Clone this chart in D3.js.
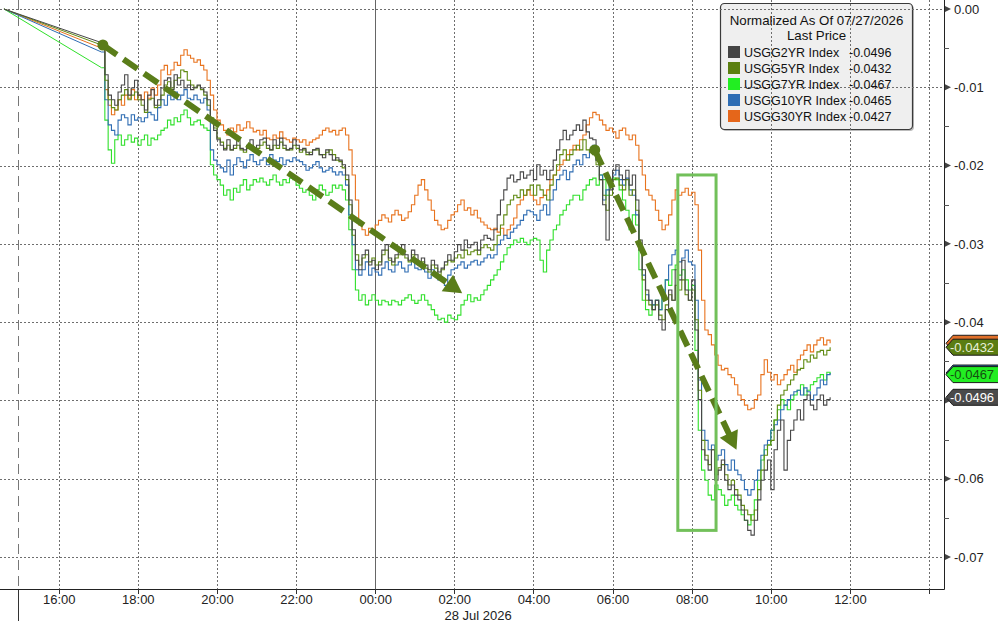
<!DOCTYPE html>
<html><head><meta charset="utf-8">
<script src="https://cdn.jsdelivr.net/npm/d3@7"></script>
<style>
body{margin:0;background:#fff}
svg{display:block}
text{font-family:"Liberation Sans",Arial,sans-serif}
</style>
</head><body>
<svg id="c" width="998" height="621"></svg>
<script>
// ---------- DATA ----------
const seriesNames = ["USGG2YR Index","USGG5YR Index","USGG7YR Index","USGG10YR Index","USGG30YR Index"];
const lastPrices = [-0.0496,-0.0432,-0.0467,-0.0465,-0.0427];
const lastPriceLabels = ["-0.0496","-0.0432","-0.0467","-0.0465","-0.0427"];
const yTickValues = [0,-0.01,-0.02,-0.03,-0.04,-0.05,-0.06,-0.07];
const yTickLabels = ["0.00","-0.01","-0.02","-0.03","-0.04","-0.05","-0.06","-0.07"];
const xTickLabels = ["16:00","18:00","20:00","22:00","00:00","02:00","04:00","06:00","08:00","10:00","12:00"];
const dateLabel = "28 Jul 2026";
const legendTitle = "Normalized As Of 07/27/2026";
const legendSub = "Last Price";
// normalization point (all series = 0), then 5-minute readings from 17:05 to 11:30
const openTime = new Date(2026,6,27,14,37);
const firstTime = new Date(2026,6,27,17,5);
const stepMinutes = 5;

const usgg2yr = [
-.0043,-.0084,-.0110,-.0116,-.0123,-.0106,-.0097,-.0084,-.0110,-.0101,-.0091,-.0110,
-.0116,-.0129,-.0110,-.0103,-.0123,-.0116,-.0101,-.0091,-.0088,-.0103,-.0084,-.0097,
-.0091,-.0101,-.0097,-.0103,-.0100,-.0097,-.0101,-.0106,-.0116,-.0142,-.0155,-.0167,
-.0174,-.0180,-.0167,-.0180,-.0174,-.0167,-.0178,-.0180,-.0174,-.0167,-.0180,-.0174,
-.0167,-.0165,-.0174,-.0180,-.0167,-.0174,-.0165,-.0174,-.0180,-.0178,-.0167,-.0174,
-.0180,-.0178,-.0183,-.0186,-.0180,-.0178,-.0186,-.0190,-.0180,-.0186,-.0193,-.0190,
-.0193,-.0199,-.0212,-.0244,-.0282,-.0321,-.0333,-.0314,-.0308,-.0327,-.0321,-.0333,
-.0327,-.0308,-.0301,-.0318,-.0323,-.0314,-.0308,-.0301,-.0314,-.0321,-.0308,-.0314,
-.0323,-.0318,-.0327,-.0333,-.0321,-.0327,-.0336,-.0331,-.0323,-.0314,-.0321,-.0310,
-.0301,-.0308,-.0295,-.0305,-.0301,-.0298,-.0308,-.0295,-.0289,-.0293,-.0295,-.0282,
-.0263,-.0244,-.0231,-.0216,-.0212,-.0221,-.0218,-.0208,-.0216,-.0212,-.0206,-.0218,
-.0199,-.0212,-.0206,-.0218,-.0206,-.0193,-.0180,-.0167,-.0155,-.0167,-.0161,-.0155,
-.0148,-.0155,-.0142,-.0157,-.0165,-.0167,-.0193,-.0218,-.0250,-.0295,-.0231,-.0206,
-.0199,-.0212,-.0218,-.0206,-.0225,-.0212,-.0244,-.0295,-.0333,-.0359,-.0372,-.0384,
-.0372,-.0397,-.0410,-.0384,-.0359,-.0372,-.0333,-.0346,-.0321,-.0359,-.0372,-.0346,
-.0410,-.0499,-.0563,-.0576,-.0589,-.0563,-.0602,-.0589,-.0576,-.0602,-.0614,-.0608,
-.0621,-.0627,-.0640,-.0653,-.0666,-.0672,-.0653,-.0627,-.0602,-.0589,-.0576,-.0614,
-.0563,-.0538,-.0525,-.0589,-.0551,-.0538,-.0525,-.0512,-.0525,-.0499,-.0493,-.0506,
-.0512,-.0499,-.0493,-.0506,-.0499,-.0496];

const usgg5yr = [
-.0046,-.0091,-.0116,-.0126,-.0129,-.0116,-.0110,-.0103,-.0116,-.0110,-.0106,-.0116,
-.0123,-.0132,-.0116,-.0114,-.0126,-.0123,-.0110,-.0097,-.0093,-.0101,-.0091,-.0088,
-.0078,-.0080,-.0091,-.0097,-.0101,-.0098,-.0103,-.0110,-.0123,-.0139,-.0152,-.0165,
-.0170,-.0178,-.0174,-.0180,-.0178,-.0174,-.0180,-.0183,-.0178,-.0174,-.0180,-.0178,
-.0174,-.0170,-.0178,-.0180,-.0174,-.0178,-.0170,-.0178,-.0180,-.0180,-.0174,-.0178,
-.0183,-.0180,-.0186,-.0183,-.0180,-.0180,-.0186,-.0186,-.0183,-.0180,-.0186,-.0193,
-.0195,-.0203,-.0218,-.0250,-.0289,-.0314,-.0327,-.0318,-.0314,-.0323,-.0318,-.0327,
-.0323,-.0314,-.0308,-.0321,-.0327,-.0318,-.0314,-.0308,-.0318,-.0323,-.0314,-.0321,
-.0327,-.0323,-.0331,-.0336,-.0327,-.0331,-.0340,-.0333,-.0327,-.0321,-.0323,-.0318,
-.0314,-.0318,-.0308,-.0314,-.0310,-.0308,-.0314,-.0305,-.0301,-.0305,-.0308,-.0301,
-.0289,-.0276,-.0263,-.0250,-.0244,-.0238,-.0241,-.0231,-.0238,-.0231,-.0225,-.0238,
-.0225,-.0231,-.0238,-.0244,-.0225,-.0212,-.0199,-.0186,-.0180,-.0193,-.0186,-.0180,
-.0174,-.0180,-.0167,-.0180,-.0183,-.0186,-.0199,-.0218,-.0238,-.0257,-.0238,-.0218,
-.0216,-.0225,-.0231,-.0218,-.0238,-.0231,-.0257,-.0308,-.0346,-.0372,-.0378,-.0384,
-.0378,-.0391,-.0397,-.0378,-.0365,-.0372,-.0353,-.0359,-.0346,-.0365,-.0372,-.0359,
-.0397,-.0487,-.0551,-.0570,-.0582,-.0563,-.0595,-.0586,-.0582,-.0595,-.0608,-.0602,
-.0614,-.0621,-.0634,-.0640,-.0646,-.0653,-.0640,-.0614,-.0589,-.0570,-.0557,-.0551,
-.0525,-.0506,-.0493,-.0487,-.0480,-.0474,-.0467,-.0461,-.0459,-.0448,-.0451,-.0442,
-.0446,-.0438,-.0436,-.0442,-.0436,-.0432];

const usgg7yr = [
-.0075,-.0142,-.0180,-.0197,-.0167,-.0161,-.0174,-.0167,-.0161,-.0170,-.0165,-.0174,
-.0167,-.0161,-.0174,-.0165,-.0167,-.0161,-.0155,-.0152,-.0142,-.0148,-.0139,-.0144,
-.0135,-.0129,-.0139,-.0148,-.0144,-.0142,-.0148,-.0152,-.0155,-.0199,-.0212,-.0218,
-.0225,-.0238,-.0231,-.0244,-.0229,-.0234,-.0225,-.0218,-.0231,-.0225,-.0218,-.0221,
-.0216,-.0221,-.0225,-.0218,-.0212,-.0221,-.0225,-.0218,-.0222,-.0216,-.0218,-.0225,
-.0229,-.0234,-.0231,-.0238,-.0244,-.0231,-.0225,-.0231,-.0238,-.0234,-.0225,-.0229,
-.0225,-.0231,-.0244,-.0282,-.0333,-.0359,-.0372,-.0365,-.0378,-.0372,-.0365,-.0372,
-.0378,-.0372,-.0374,-.0378,-.0372,-.0374,-.0378,-.0372,-.0369,-.0365,-.0372,-.0376,
-.0372,-.0365,-.0372,-.0378,-.0384,-.0391,-.0397,-.0395,-.0400,-.0391,-.0395,-.0397,
-.0391,-.0378,-.0372,-.0365,-.0374,-.0369,-.0372,-.0365,-.0359,-.0353,-.0346,-.0340,
-.0333,-.0323,-.0314,-.0305,-.0301,-.0295,-.0298,-.0293,-.0298,-.0301,-.0295,-.0293,
-.0295,-.0321,-.0336,-.0308,-.0295,-.0282,-.0276,-.0263,-.0257,-.0250,-.0244,-.0238,
-.0238,-.0244,-.0231,-.0225,-.0218,-.0216,-.0225,-.0212,-.0218,-.0238,-.0225,-.0216,
-.0218,-.0231,-.0244,-.0257,-.0282,-.0263,-.0276,-.0333,-.0372,-.0384,-.0391,-.0378,
-.0372,-.0384,-.0359,-.0346,-.0353,-.0333,-.0327,-.0340,-.0333,-.0346,-.0359,-.0353,
-.0436,-.0538,-.0589,-.0602,-.0621,-.0627,-.0608,-.0614,-.0621,-.0634,-.0627,-.0621,
-.0634,-.0640,-.0646,-.0653,-.0659,-.0646,-.0627,-.0602,-.0576,-.0563,-.0557,-.0538,
-.0525,-.0512,-.0499,-.0506,-.0512,-.0499,-.0493,-.0487,-.0480,-.0493,-.0487,-.0480,
-.0476,-.0471,-.0467,-.0474,-.0464,-.0467];

const usgg10yr = [
-.0055,-.0116,-.0148,-.0155,-.0161,-.0142,-.0135,-.0139,-.0148,-.0135,-.0142,-.0139,
-.0144,-.0139,-.0132,-.0135,-.0142,-.0126,-.0116,-.0123,-.0110,-.0116,-.0106,-.0116,
-.0110,-.0103,-.0114,-.0116,-.0110,-.0116,-.0120,-.0114,-.0129,-.0180,-.0193,-.0199,
-.0203,-.0208,-.0193,-.0212,-.0199,-.0190,-.0195,-.0203,-.0193,-.0186,-.0195,-.0199,
-.0193,-.0190,-.0199,-.0186,-.0193,-.0195,-.0190,-.0199,-.0193,-.0195,-.0190,-.0193,
-.0195,-.0199,-.0206,-.0203,-.0199,-.0195,-.0203,-.0208,-.0206,-.0203,-.0208,-.0212,
-.0208,-.0212,-.0225,-.0263,-.0301,-.0333,-.0340,-.0333,-.0323,-.0340,-.0331,-.0336,
-.0340,-.0331,-.0323,-.0333,-.0336,-.0327,-.0323,-.0331,-.0336,-.0327,-.0321,-.0331,
-.0333,-.0327,-.0336,-.0344,-.0333,-.0340,-.0346,-.0344,-.0353,-.0340,-.0333,-.0331,
-.0327,-.0323,-.0331,-.0327,-.0323,-.0321,-.0327,-.0323,-.0318,-.0314,-.0318,-.0314,
-.0301,-.0295,-.0289,-.0293,-.0285,-.0280,-.0276,-.0270,-.0263,-.0257,-.0259,-.0263,
-.0270,-.0257,-.0250,-.0263,-.0244,-.0231,-.0218,-.0212,-.0206,-.0218,-.0208,-.0199,
-.0193,-.0199,-.0186,-.0190,-.0180,-.0174,-.0193,-.0212,-.0244,-.0231,-.0218,-.0212,
-.0206,-.0218,-.0225,-.0216,-.0231,-.0238,-.0263,-.0308,-.0340,-.0365,-.0372,-.0378,
-.0372,-.0384,-.0365,-.0346,-.0327,-.0314,-.0308,-.0323,-.0318,-.0308,-.0323,-.0327,
-.0372,-.0474,-.0538,-.0551,-.0563,-.0557,-.0576,-.0570,-.0563,-.0582,-.0589,-.0576,
-.0589,-.0595,-.0602,-.0614,-.0621,-.0614,-.0602,-.0589,-.0570,-.0557,-.0551,-.0538,
-.0531,-.0525,-.0512,-.0506,-.0499,-.0493,-.0489,-.0487,-.0493,-.0484,-.0489,-.0499,
-.0493,-.0484,-.0474,-.0480,-.0467,-.0465];

const usgg30yr = [
-.0050,-.0103,-.0123,-.0135,-.0129,-.0116,-.0123,-.0110,-.0114,-.0103,-.0116,-.0110,
-.0116,-.0106,-.0114,-.0101,-.0110,-.0097,-.0078,-.0072,-.0084,-.0078,-.0068,-.0072,
-.0059,-.0052,-.0059,-.0063,-.0068,-.0065,-.0072,-.0078,-.0091,-.0110,-.0129,-.0142,
-.0148,-.0155,-.0161,-.0152,-.0157,-.0148,-.0155,-.0152,-.0144,-.0152,-.0157,-.0155,
-.0161,-.0155,-.0165,-.0167,-.0161,-.0165,-.0157,-.0165,-.0167,-.0170,-.0165,-.0167,
-.0170,-.0167,-.0174,-.0170,-.0167,-.0165,-.0161,-.0155,-.0152,-.0157,-.0155,-.0161,
-.0155,-.0152,-.0161,-.0180,-.0212,-.0244,-.0276,-.0282,-.0289,-.0280,-.0282,-.0276,
-.0270,-.0263,-.0267,-.0272,-.0263,-.0257,-.0263,-.0270,-.0267,-.0259,-.0250,-.0238,
-.0225,-.0218,-.0231,-.0244,-.0257,-.0270,-.0276,-.0282,-.0280,-.0270,-.0263,-.0259,
-.0250,-.0244,-.0257,-.0254,-.0263,-.0257,-.0267,-.0272,-.0276,-.0280,-.0282,-.0280,
-.0285,-.0280,-.0289,-.0282,-.0276,-.0267,-.0250,-.0244,-.0238,-.0231,-.0238,-.0244,
-.0250,-.0241,-.0238,-.0231,-.0218,-.0212,-.0206,-.0199,-.0193,-.0186,-.0180,-.0174,
-.0180,-.0167,-.0161,-.0148,-.0139,-.0132,-.0135,-.0142,-.0148,-.0155,-.0152,-.0157,
-.0165,-.0155,-.0152,-.0161,-.0167,-.0161,-.0174,-.0193,-.0212,-.0231,-.0238,-.0244,
-.0257,-.0270,-.0282,-.0276,-.0263,-.0244,-.0231,-.0238,-.0234,-.0229,-.0238,-.0234,
-.0250,-.0308,-.0372,-.0410,-.0416,-.0429,-.0442,-.0455,-.0461,-.0459,-.0467,-.0471,
-.0480,-.0493,-.0499,-.0506,-.0512,-.0510,-.0499,-.0493,-.0467,-.0448,-.0464,-.0474,
-.0467,-.0480,-.0474,-.0467,-.0461,-.0455,-.0464,-.0448,-.0442,-.0436,-.0429,-.0438,
-.0429,-.0423,-.0420,-.0429,-.0423,-.0427];

const seriesValues = [usgg2yr, usgg5yr, usgg7yr, usgg10yr, usgg30yr];
const seriesColors = ["#474747","#5f8a12","#2fe02a","#2f6db3","#e8731e"];
const legendColors = ["#444444","#5b7f10","#22ee22","#2e6db4","#e5661a"];
const tagFill = ["#4a4a4a","#5a7d12","#22ee22","#2e6db4","#e0702a"];
const tagText = ["#ffffff","#e8f0d8","#145010","#ffffff","#ffffff"];
// tags drawn bottom-to-top; the orange and blue tags sit under the olive and lime ones
const tagOrder = [4,1,3,2,0];
const hiddenTags = [4,3];

// annotations (time, value)
const arrow1 = [[new Date(2026,6,27,17,7), -0.0046],[new Date(2026,6,28,2,12), -0.0363]];
const arrow2 = [[new Date(2026,6,28,5,33), -0.0180],[new Date(2026,6,28,9,8), -0.0563]];
const boxTimes = [new Date(2026,6,28,7,39), new Date(2026,6,28,8,37)];
const boxValues = [-0.0212, -0.0666];
const dayBreak = new Date(2026,6,28,0,0);
const markTime = new Date(2026,6,27,15,0);

// ---------- LAYOUT ----------
const svg = d3.select("#c");
const plotRight = 944, plotBottom = 589;
const x = d3.scaleTime()
  .domain([new Date(2026,6,27,16,0), new Date(2026,6,28,12,0)])
  .range([58.7, 849.9]);
const y = d3.scaleLinear().domain([0,-0.07]).range([9,557]);

svg.append("defs").append("clipPath").attr("id","clip")
  .append("rect").attr("x",0).attr("y",0).attr("width",plotRight).attr("height",plotBottom);

// legend background (grid shows through)
const lg = {x:720.5,y:3.5,w:192,h:126};
svg.append("rect").attr("x",lg.x+1.5).attr("y",lg.y+1.5).attr("width",lg.w).attr("height",lg.h)
  .attr("rx",4).attr("fill","#bbb");
svg.append("rect").attr("x",lg.x).attr("y",lg.y).attr("width",lg.w).attr("height",lg.h)
  .attr("rx",4).attr("fill","#efefef").attr("stroke","#3a3a3a").attr("stroke-width",1.2);

// gridlines
const grid = svg.append("g").attr("clip-path","url(#clip)");
grid.selectAll("line.h").data(yTickValues).join("line")
  .attr("x1",0).attr("x2",plotRight)
  .attr("y1",d=>Math.round(y(d))+0.5).attr("y2",d=>Math.round(y(d))+0.5)
  .attr("stroke","#6e6e6e").attr("stroke-width",1).attr("stroke-dasharray","2,2");
const evenHours = d3.timeHour.every(2).range(new Date(2026,6,27,16,0), new Date(2026,6,28,15,0))
  .filter(d=>+d !== +dayBreak);
grid.selectAll("line.v").data(evenHours).join("line")
  .attr("x1",d=>Math.round(x(d))+0.5).attr("x2",d=>Math.round(x(d))+0.5)
  .attr("y1",0).attr("y2",plotBottom)
  .attr("stroke","#6e6e6e").attr("stroke-width",1).attr("stroke-dasharray","2,2");
svg.append("line").attr("x1",Math.round(x(dayBreak))+0.5).attr("x2",Math.round(x(dayBreak))+0.5)
  .attr("y1",0).attr("y2",plotBottom).attr("stroke","#666").attr("stroke-width",1);
svg.append("line").attr("x1",Math.round(x(markTime))-0.5).attr("x2",Math.round(x(markTime))-0.5)
  .attr("y1",0).attr("y2",plotBottom).attr("stroke","#777").attr("stroke-width",1).attr("stroke-dasharray","10,6");
svg.append("line").attr("x1",Math.round(x(markTime))-0.5).attr("x2",Math.round(x(markTime))-0.5)
  .attr("y1",plotBottom).attr("y2",621).attr("stroke","#333").attr("stroke-width",1);

// ---------- SERIES ----------
const times = seriesValues[0].map((_,i)=>d3.timeMinute.offset(firstTime, i*stepMinutes));
const lineStep = d3.line().x(d=>x(d[0])).y(d=>y(d[1])).curve(d3.curveStepAfter);
const lineLin = d3.line().x(d=>x(d[0])).y(d=>y(d[1]));
const drawOrder = [4,2,3,1,0];
const lines = svg.append("g").attr("clip-path","url(#clip)");
drawOrder.forEach(k=>{
  const vals = seriesValues[k];
  const pts = vals.map((v,i)=>[times[i], v]);
  lines.append("path").attr("d", lineLin([[openTime,0],pts[0]]))
    .attr("fill","none").attr("stroke",seriesColors[k]).attr("stroke-width",1);
  lines.append("path").attr("d", lineStep(pts))
    .attr("fill","none").attr("stroke",seriesColors[k]).attr("stroke-width",1.1);
});

// ---------- ANNOTATIONS ----------
const annColor = "#5a7d1a";
function drawArrow(a){
  const p0=[x(a[0][0]),y(a[0][1])], p1=[x(a[1][0]),y(a[1][1])];
  const dx=p1[0]-p0[0], dy=p1[1]-p0[1], L=Math.hypot(dx,dy);
  const ux=dx/L, uy=dy/L, nx=-uy, ny=ux;
  const hl=18, hw=10;
  const b=[p1[0]-hl*ux, p1[1]-hl*uy];
  svg.append("line").attr("x1",p0[0]).attr("y1",p0[1]).attr("x2",b[0]+2*ux).attr("y2",b[1]+2*uy)
    .attr("stroke",annColor).attr("stroke-width",6).attr("stroke-dasharray","17,8");
  svg.append("circle").attr("cx",p0[0]).attr("cy",p0[1]).attr("r",5.5).attr("fill",annColor);
  svg.append("path").attr("d",`M${p1[0]},${p1[1]}L${b[0]+hw*nx},${b[1]+hw*ny}L${b[0]-hw*nx},${b[1]-hw*ny}Z`)
    .attr("fill",annColor);
}
drawArrow(arrow1);
drawArrow(arrow2);
svg.append("rect")
  .attr("x",x(boxTimes[0])).attr("y",y(boxValues[0]))
  .attr("width",x(boxTimes[1])-x(boxTimes[0])).attr("height",y(boxValues[1])-y(boxValues[0]))
  .attr("fill","none").attr("stroke","#72c05a").attr("stroke-width",3);

// ---------- AXES ----------
svg.append("line").attr("x1",0).attr("x2",plotRight+0.5).attr("y1",plotBottom+0.5).attr("y2",plotBottom+0.5)
  .attr("stroke","#222").attr("stroke-width",1);
const oddHours = d3.timeHour.every(2).range(new Date(2026,6,27,13,0), new Date(2026,6,28,15,0))
  .filter(d=>x(d)>=0 && x(d)<=plotRight);
svg.selectAll("line.mt").data(oddHours).join("line")
  .attr("x1",d=>Math.round(x(d))+0.5).attr("x2",d=>Math.round(x(d))+0.5)
  .attr("y1",plotBottom).attr("y2",plotBottom+5).attr("stroke","#333");
const labelHours = d3.timeHour.every(2).range(new Date(2026,6,27,16,0), new Date(2026,6,28,13,0));
const xAxis = d3.axisBottom(x).tickValues(labelHours).tickSize(0).tickPadding(0)
  .tickFormat((d,i)=>xTickLabels[i]);
const gx = svg.append("g").attr("transform",`translate(0,${plotBottom+15})`).call(xAxis);
gx.select(".domain").remove();
gx.selectAll("text").attr("font-size",13).attr("fill","#222").attr("dy","0")
  .style("font-family","'Liberation Sans',Arial,sans-serif");
svg.append("text").attr("x",x(new Date(2026,6,28,1,45))).attr("y",619.5)
  .attr("font-size",13).attr("fill","#222").text(dateLabel);

// right axis
svg.append("line").attr("x1",plotRight+0.5).attr("x2",plotRight+0.5).attr("y1",0).attr("y2",plotBottom+0.5)
  .attr("stroke","#222");
const tagY = tagOrder.map(k=>y(lastPrices[k]));
const yAxis = d3.axisRight(y).tickValues(yTickValues).tickSize(0).tickPadding(10)
  .tickFormat((d,i)=>yTickLabels[i]);
const gy = svg.append("g").attr("transform",`translate(${plotRight},0)`).call(yAxis);
gy.select(".domain").remove();
gy.selectAll("text").attr("font-size",13).attr("fill","#222")
  .style("font-family","'Liberation Sans',Arial,sans-serif");
// labels covered by a last-price tag are not shown (as in the terminal)
gy.selectAll(".tick").filter(d=>tagY.some(t=>Math.abs(t-y(d))<12)).select("text").remove();
svg.selectAll("path.tri").data(yTickValues).join("path")
  .attr("d",d=>{const yy=y(d);return `M${plotRight+1},${yy-3}L${plotRight+7},${yy}L${plotRight+1},${yy+3}Z`;})
  .attr("fill","#444");
const halfTicks = yTickValues.slice(0,-1).map((d,i)=>(d+yTickValues[i+1])/2);
svg.selectAll("line.ht").data(halfTicks).join("line")
  .attr("x1",plotRight).attr("x2",plotRight+5)
  .attr("y1",d=>Math.round(y(d))+0.5).attr("y2",d=>Math.round(y(d))+0.5).attr("stroke","#555");

// last-price tags
tagOrder.forEach(k=>{
  const yy = y(lastPrices[k]);
  const g = svg.append("g");
  g.append("path")
    .attr("d",`M${plotRight+2},${yy}L${plotRight+9},${yy-8}L1000,${yy-8}L1000,${yy+8}L${plotRight+9},${yy+8}Z`)
    .attr("fill",tagFill[k]).attr("stroke","#1a1a1a").attr("stroke-width",1);
  if(!hiddenTags.includes(k)){
    g.append("text").attr("x",plotRight+6).attr("y",yy).attr("dy","0.36em")
      .attr("font-size",13).attr("fill",tagText[k]).text(lastPriceLabels[k]);
  }
});

// ---------- LEGEND ----------
const lgt = svg.append("g").attr("font-size",12.5).attr("fill","#111");
lgt.append("text").attr("x",lg.x+lg.w/2).attr("y",25).attr("text-anchor","middle")
  .attr("font-size",13.3).text(legendTitle);
lgt.append("text").attr("x",lg.x+lg.w/2).attr("y",40).attr("text-anchor","middle")
  .attr("font-size",13.3).text(legendSub);
seriesNames.forEach((n,i)=>{
  const cy = 52 + i*16;
  lgt.append("rect").attr("x",728).attr("y",cy-6).attr("width",12).attr("height",12).attr("fill",legendColors[i]);
  lgt.append("text").attr("x",744).attr("y",cy+4.5).text(n);
  lgt.append("text").attr("x",849).attr("y",cy+4.5).text(lastPriceLabels[i]);
});
</script>
</body></html>
